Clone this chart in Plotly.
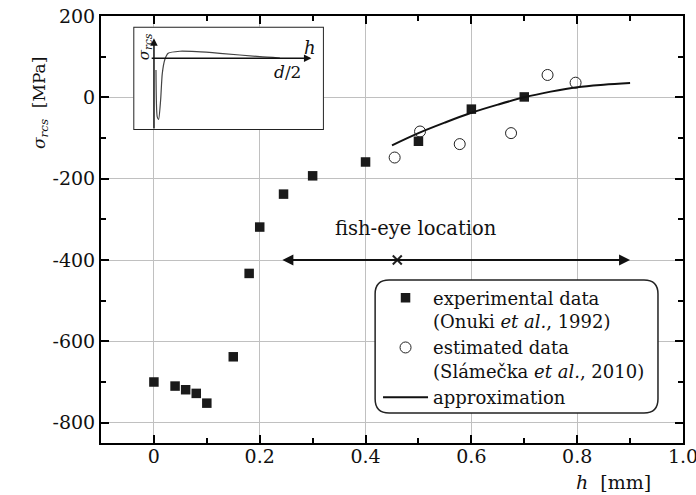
import plotly.graph_objects as go

# ---------------- data ----------------
exp_h = [0.0, 0.04, 0.06, 0.08, 0.10, 0.15, 0.18, 0.20, 0.245, 0.30, 0.40, 0.50, 0.60, 0.70]
exp_s = [-700, -710, -719, -728, -752, -638, -433, -319, -238, -193, -159, -108, -29, 1]

est_h = [0.455, 0.503, 0.578, 0.675, 0.744, 0.797]
est_s = [-148, -84, -115, -88, 55, 36]

apx_h = [0.45, 0.50, 0.55, 0.60, 0.65, 0.70, 0.75, 0.80, 0.85, 0.90]
apx_s = [-118, -88, -62, -38, -18, 0, 14, 25, 31, 35]

fish_h = [0.24, 0.90]     # fish-eye location range
fish_s = -400
fish_x = 0.46             # marked position

# schematic inset curve (h / (d/2), sigma normalised)
ins_u = [0.016, 0.026, 0.037, 0.053, 0.066, 0.087, 0.113, 0.206, 0.339, 0.524, 0.841, 1.0]
ins_v = [-0.19, -0.96, -1.0, -0.68, -0.25, -0.016, 0.082, 0.115, 0.108, 0.082, 0.026, 0.005]

x_ticks = [0, 0.2, 0.4, 0.6, 0.8, 1.0]
x_ticktext = ["0", "0.2", "0.4", "0.6", "0.8", "1.0"]
y_ticks = [200, 0, -200, -400, -600, -800]
y_ticktext = ["200", "0", "-200", "-400", "-600", "-800"]

FONT = "DejaVu Serif"
INS_X = [-0.164, 1.349]
INS_Y = [-1.175, 0.518]

fig = go.Figure()

fig.add_trace(go.Scatter(
    x=exp_h, y=exp_s, mode="markers",
    marker=dict(symbol="square", size=9.5, color="#1a1a1a"),
    name="experimental data<br>(Onuki <i>et al.</i>, 1992)"))
fig.add_trace(go.Scatter(
    x=est_h, y=est_s, mode="markers",
    marker=dict(symbol="circle-open", size=11, color="#222", line=dict(width=1)),
    name="estimated data<br>(Slámečka <i>et al.</i>, 2010)"))
fig.add_trace(go.Scatter(
    x=apx_h, y=apx_s, mode="lines", line=dict(color="#111", width=2, shape="spline"),
    name="approximation"))

# fish-eye marker
fig.add_trace(go.Scatter(
    x=[fish_x], y=[fish_s], mode="markers", showlegend=False,
    marker=dict(symbol="x-thin", size=9, line=dict(width=2, color="#222"))))

# inset curve
fig.add_trace(go.Scatter(
    x=ins_u, y=ins_v, mode="lines", xaxis="x2", yaxis="y2", showlegend=False,
    line=dict(color="#444", width=1.2, shape="spline", smoothing=0.6)))

axis_common = dict(
    showline=True, linecolor="black", linewidth=2, mirror="allticks",
    ticks="inside", ticklen=8, tickwidth=2, tickcolor="black",
    showgrid=True, gridcolor="#c0c0c0", gridwidth=1, zeroline=False,
    tickfont=dict(family=FONT, size=19, color="#111"), automargin=False,
    ticklabeloverflow="allow",
)

fig.update_layout(
    width=696, height=495,
    margin=dict(l=101, r=13, t=16, b=52),
    paper_bgcolor="white", plot_bgcolor="white",
    font=dict(family=FONT, color="#111"),
    xaxis=dict(range=[-0.1, 1.0], tickvals=x_ticks, ticktext=x_ticktext,
               ticklabelstandoff=-5,
               minor=dict(ticks="inside", ticklen=5, tickwidth=1.5, tickcolor="black",
                          dtick=0.1, tick0=0, showgrid=False),
               **axis_common),
    yaxis=dict(range=[-850, 200], tickvals=y_ticks, ticktext=y_ticktext,
               minor=dict(ticks="inside", ticklen=5, tickwidth=1.5, tickcolor="black",
                          dtick=100, tick0=0, showgrid=False),
               **axis_common),
    xaxis2=dict(domain=[0.0555, 0.383], range=INS_X, visible=False, anchor="y2"),
    yaxis2=dict(domain=[0.733, 0.975], range=INS_Y, visible=False, anchor="x2"),
    legend=dict(x=0.476, y=0.383, xanchor="left", yanchor="top",
                bgcolor="rgba(0,0,0,0)", borderwidth=0, valign="top",
                font=dict(family=FONT, size=18, color="#111"),
                itemwidth=45, tracegroupgap=0),
    showlegend=True,
)

# rounded legend box
x0, x1, y0, y1 = 0.471, 0.957, 0.070, 0.382
rx, ry = 14 / 582, 14 / 427
path = (f"M {x0+rx},{y0} L {x1-rx},{y0} Q {x1},{y0} {x1},{y0+ry} "
        f"L {x1},{y1-ry} Q {x1},{y1} {x1-rx},{y1} L {x0+rx},{y1} "
        f"Q {x0},{y1} {x0},{y1-ry} L {x0},{y0+ry} Q {x0},{y0} {x0+rx},{y0} Z")
fig.add_shape(type="path", path=path, xref="paper", yref="paper",
              line=dict(color="#222", width=1.5), fillcolor="white", layer="above")

# inset box (drawn in the inset subplot, below its curve)
fig.add_shape(type="rect", xref="x2", yref="y2", x0=INS_X[0], x1=INS_X[1],
              y0=INS_Y[0], y1=INS_Y[1],
              line=dict(color="#222", width=2), fillcolor="white", layer="below")

# inset axes arrows
fig.add_annotation(x=1.25, y=0, ax=-0.03, ay=0, xref="x2", yref="y2", axref="x2", ayref="y2",
                   text="", showarrow=True, arrowhead=2, arrowsize=1, arrowwidth=1.5,
                   arrowcolor="#111")
fig.add_annotation(x=0, y=0.33, ax=0, ay=-1.175, xref="x2", yref="y2", axref="x2", ayref="y2",
                   text="", showarrow=True, arrowhead=2, arrowsize=1, arrowwidth=1.5,
                   arrowcolor="#111")
fig.add_annotation(x=-0.075, y=0.19, xref="x2", yref="y2", text="<i>σ<sub>rcs</sub></i>",
                   textangle=-90, xanchor="center", yanchor="middle", showarrow=False,
                   font=dict(family=FONT, size=15, color="#111"))
fig.add_annotation(x=1.238, y=0.17, xref="x2", yref="y2", text="<i>h</i>",
                   xanchor="center", yanchor="middle",
                   showarrow=False, font=dict(family=FONT, size=18, color="#111"))
fig.add_annotation(x=1.063, y=-0.22, xref="x2", yref="y2", text="<i>d</i>/2",
                   xanchor="center", yanchor="middle",
                   showarrow=False, font=dict(family=FONT, size=17, color="#111"))

# fish-eye location arrow
fig.add_annotation(x=fish_h[1], y=fish_s, ax=fish_h[0], ay=fish_s, xref="x", yref="y",
                   axref="x", ayref="y", text="", showarrow=True, arrowhead=2,
                   arrowside="end+start", arrowsize=1, arrowwidth=2.2, arrowcolor="#111")
fig.add_annotation(x=0.495, y=-322, xref="x", yref="y", text="fish-eye location",
                   xanchor="center", yanchor="middle",
                   showarrow=False, font=dict(family=FONT, size=19.5, color="#111"))

# axis titles
fig.add_annotation(x=-0.105, y=0.796, xref="paper", yref="paper", textangle=-90,
                   xanchor="center", yanchor="middle",
                   text="<i>σ<sub>rcs</sub></i>\u00a0\u00a0[MPa]", showarrow=False,
                   font=dict(family=FONT, size=17, color="#111"))
fig.add_annotation(x=0.88, y=-0.092, xref="paper", yref="paper",
                   xanchor="center", yanchor="middle",
                   text="<i>h</i>\u00a0\u00a0[mm]", showarrow=False,
                   font=dict(family=FONT, size=19, color="#111"))

fig.write_html("out.html", config={"displayModeBar": False},
               post_script="document.body.style.margin='0';document.body.style.padding='0';")
